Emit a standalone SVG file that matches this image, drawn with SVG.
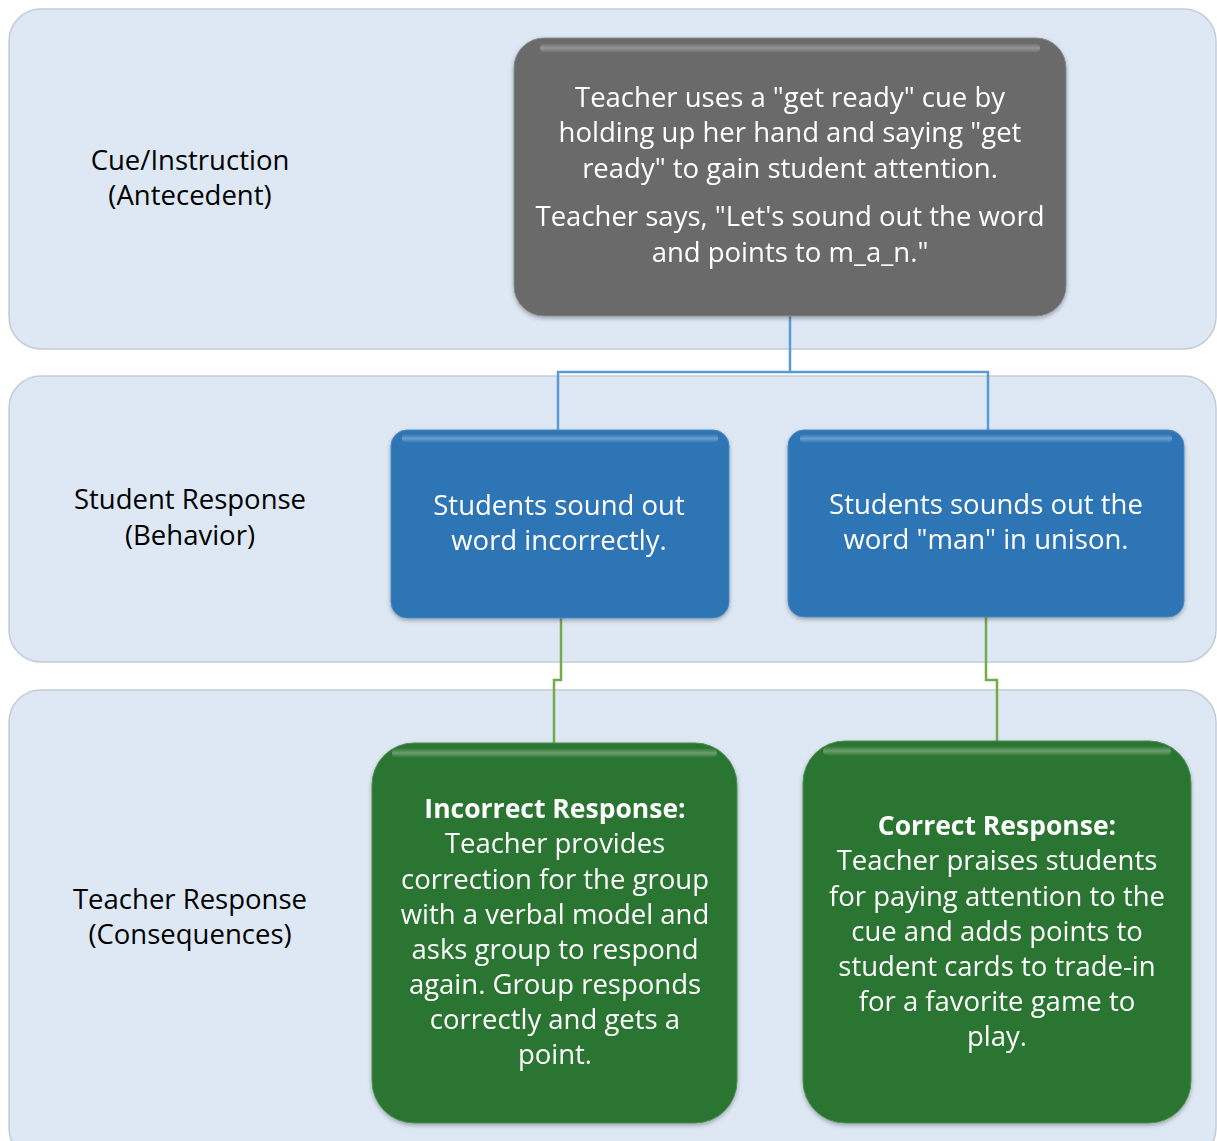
<svg xmlns="http://www.w3.org/2000/svg" width="1217" height="1141" viewBox="0 0 1217 1141">
<style>
.band{fill:#DDE8F4;stroke:#C4CCD6;stroke-width:1.5}
.lbl{font-family:"Open Sans","Liberation Sans",sans-serif;font-size:27.5px;fill:#000;text-anchor:middle}
.t{font-family:"Open Sans","Liberation Sans",sans-serif;font-size:27.5px;fill:#fff;text-anchor:middle}
.b{font-weight:bold;font-size:26.5px}
.conb{fill:none;stroke:#5B9BD5;stroke-width:2.5}
.cong{fill:none;stroke:#70AD47;stroke-width:2.5}
</style>
<defs>
<linearGradient id="gloss" x1="0" y1="0" x2="0" y2="1">
<stop offset="0" stop-color="#fff" stop-opacity="0"/>
<stop offset="0.5" stop-color="#fff" stop-opacity="0.3"/>
<stop offset="1" stop-color="#fff" stop-opacity="0"/>
</linearGradient>
<filter id="sh" x="-5%" y="-5%" width="110%" height="115%">
<feDropShadow dx="0" dy="2" stdDeviation="2" flood-color="#000" flood-opacity="0.3"/>
</filter>
</defs>
<rect width="1217" height="1141" fill="#fff"/>
<g id="bands">
<rect class="band" x="9" y="9" width="1207" height="340" rx="32"/>
<rect class="band" x="9" y="376" width="1207" height="286" rx="32"/>
<rect class="band" x="9" y="690" width="1207" height="470" rx="32"/>
</g>
<g id="labels">
<text class="lbl" x="190" y="170">Cue/Instruction</text>
<text class="lbl" x="190" y="205">(Antecedent)</text>
<text class="lbl" x="190" y="509">Student Response</text>
<text class="lbl" x="190" y="545">(Behavior)</text>
<text class="lbl" x="190" y="909">Teacher Response</text>
<text class="lbl" x="190" y="944">(Consequences)</text>
</g>
<g id="connectors">
<polyline class="conb" points="790,316 790,372 558,372 558,431"/>
<polyline class="conb" points="790,372 988,372 988,431"/>
<polyline class="cong" points="561,618 561,680 554,680 554,744"/>
<polyline class="cong" points="986,617 986,680 997,680 997,742"/>
</g>
<g id="cue" filter="url(#sh)">
<rect x="514" y="38" width="552" height="278" rx="30" fill="#6A6A6A" stroke="#8a8a8a" stroke-width="1"/>
<rect x="540" y="43" width="500" height="10" rx="5" fill="url(#gloss)"/>
<text class="t" x="790" y="107">Teacher uses a "get ready" cue by</text>
<text class="t" x="790" y="142">holding up her hand and saying "get</text>
<text class="t" x="790" y="178">ready" to gain student attention.</text>
<text class="t" x="790" y="226">Teacher says, "Let's sound out the word</text>
<text class="t" x="790" y="262">and points to m_a_n."</text>
</g>
<g id="incorrect-behavior" filter="url(#sh)">
<rect x="391" y="430" width="338" height="188" rx="16" fill="#2E74B5" stroke="#4a88c4" stroke-width="1"/>
<rect x="402" y="434" width="316" height="9" rx="4" fill="url(#gloss)"/>
<text class="t" x="559" y="515">Students sound out</text>
<text class="t" x="559" y="550">word incorrectly.</text>
</g>
<g id="correct-behavior" filter="url(#sh)">
<rect x="788" y="430" width="396" height="187" rx="16" fill="#2E74B5" stroke="#4a88c4" stroke-width="1"/>
<rect x="800" y="434" width="372" height="9" rx="4" fill="url(#gloss)"/>
<text class="t" x="986" y="514">Students sounds out the</text>
<text class="t" x="986" y="549">word "man" in unison.</text>
</g>
<g id="incorrect-response" filter="url(#sh)">
<rect x="372" y="743" width="365" height="380" rx="42" fill="#2C7431" stroke="#4a9050" stroke-width="1"/>
<rect x="392" y="748" width="325" height="10" rx="5" fill="url(#gloss)"/>
<text class="t b" x="555" y="818">Incorrect Response:</text>
<text class="t" x="555" y="853">Teacher provides</text>
<text class="t" x="555" y="889">correction for the group</text>
<text class="t" x="555" y="924">with a verbal model and</text>
<text class="t" x="555" y="959">asks group to respond</text>
<text class="t" x="555" y="994">again. Group responds</text>
<text class="t" x="555" y="1029">correctly and gets a</text>
<text class="t" x="555" y="1064">point.</text>
</g>
<g id="correct-response" filter="url(#sh)">
<rect x="803" y="741" width="388" height="382" rx="42" fill="#2C7431" stroke="#4a9050" stroke-width="1"/>
<rect x="823" y="746" width="348" height="10" rx="5" fill="url(#gloss)"/>
<text class="t b" x="997" y="835">Correct Response:</text>
<text class="t" x="997" y="870">Teacher praises students</text>
<text class="t" x="997" y="906">for paying attention to the</text>
<text class="t" x="997" y="941">cue and adds points to</text>
<text class="t" x="997" y="976">student cards to trade-in</text>
<text class="t" x="997" y="1011">for a favorite game to</text>
<text class="t" x="997" y="1046">play.</text>
</g>
</svg>
